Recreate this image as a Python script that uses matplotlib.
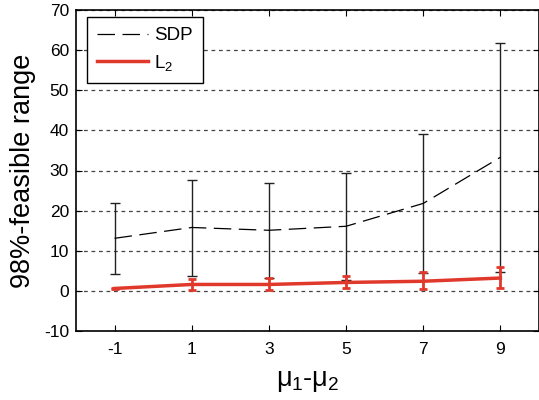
import matplotlib
matplotlib.use('Agg')
import matplotlib.pyplot as plt
import numpy as np

plt.rcParams['font.family'] = ['Liberation Sans', 'DejaVu Sans']
plt.rcParams['mathtext.fontset'] = 'custom'
plt.rcParams['mathtext.rm'] = 'Liberation Sans'
plt.rcParams['mathtext.it'] = 'Liberation Sans'
plt.rcParams['axes.unicode_minus'] = False

# data
mu_diff = [-1, 1, 3, 5, 7, 9]
sdp_mid = [13.1, 15.8, 15.1, 16.1, 21.8, 33.3]
sdp_low = [4.1, 3.8, 3.2, 2.7, 4.4, 4.6]
sdp_high = [22.0, 27.7, 27.0, 29.5, 39.1, 61.8]
l2_mid = [0.6, 1.6, 1.6, 2.1, 2.4, 3.2]
l2_low = [0.4, 0.25, 0.25, 0.8, 0.4, 0.8]
l2_high = [0.8, 3.0, 3.2, 3.6, 4.6, 5.9]

sdp_mid = np.array(sdp_mid)
l2_mid = np.array(l2_mid)

fig = plt.figure(figsize=(5.39, 4.0), dpi=100)
ax = fig.add_axes([76/539, 1 - 331/400, 1 - 76/539, 321/400])

ax.errorbar(mu_diff, sdp_mid,
            yerr=[sdp_mid - np.array(sdp_low), np.array(sdp_high) - sdp_mid],
            fmt='none', ecolor='#222222', elinewidth=1, capsize=3.3, capthick=1)
ax.plot(mu_diff, sdp_mid, color='black', lw=0.9, dashes=(14, 6), label='SDP')

ax.errorbar(mu_diff, l2_mid,
            yerr=[l2_mid - np.array(l2_low), np.array(l2_high) - l2_mid],
            fmt='none', ecolor='#e0392b', elinewidth=2, capsize=3, capthick=2)
ax.plot(mu_diff, l2_mid, color='#e0392b', lw=2.5, label='L$_2$')

ax.set_xlim(-2, 10)
ax.set_ylim(-10, 70)
ax.set_xticks(mu_diff)
ax.set_yticks(np.arange(-10, 71, 10))
ax.yaxis.grid(True, linestyle=(0, (3, 3)), color='#444444', lw=0.9)
ax.set_axisbelow(True)
ax.tick_params(direction='in', top=True, right=True, labelsize=12.5, length=4)
ax.tick_params(axis='x', pad=8)
ax.tick_params(axis='y', pad=5)
for s in ax.spines.values():
    s.set_linewidth(1.2)

ax.set_ylabel('98%-feasible range', fontsize=19.5, labelpad=6)
ax.set_xlabel('$\\mu_1$-$\\mu_2$', fontsize=19.5, labelpad=8)

leg = ax.legend(loc='upper left', fontsize=13.5, fancybox=False, framealpha=1,
                edgecolor='black', handlelength=2.7, handletextpad=0.35,
                borderpad=0.55, labelspacing=0.45, borderaxespad=0,
                bbox_to_anchor=(87/539, 1 - 17/400), bbox_transform=fig.transFigure)
leg.get_frame().set_linewidth(1.0)

fig.savefig('out.png', dpi=100)
